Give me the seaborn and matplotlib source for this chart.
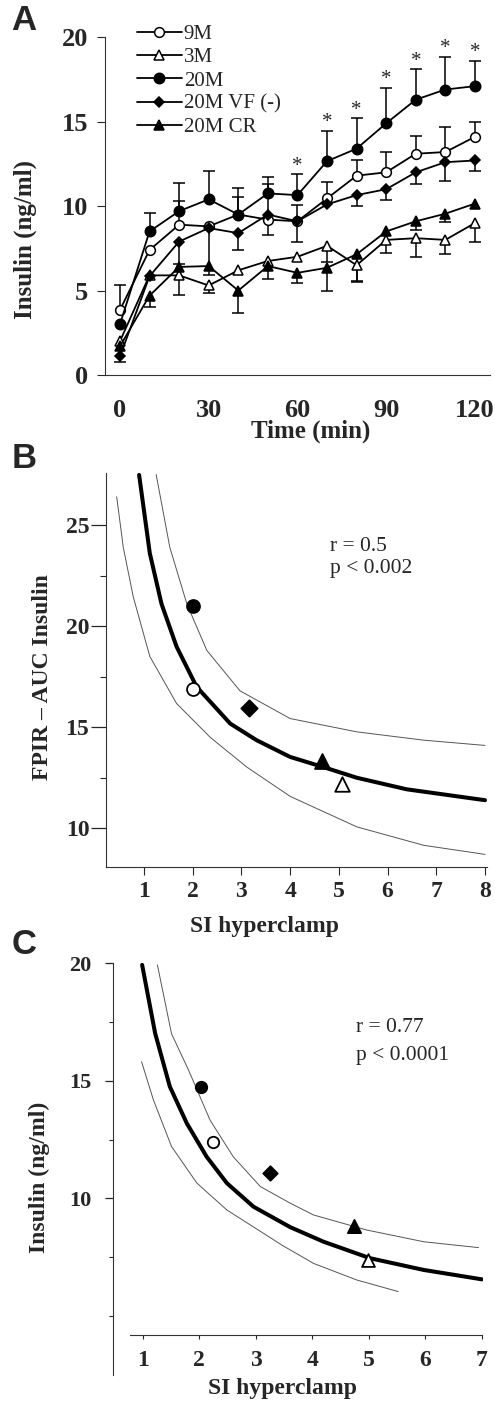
import numpy as np
import pandas as pd
import seaborn as sns
import matplotlib.pyplot as plt

# ---- Panel A: insulin time course ----
time = [0, 10, 20, 30, 40, 50, 60, 70, 80, 90, 100, 110, 120]
groups = ['9M', '3M', '20M', '20M VF (-)', '20M CR']

ins_9m = [3.85, 7.4, 8.9, 8.8, 9.5, 9.2, 9.1, 10.45, 11.8, 12.0, 13.1, 13.2, 14.1]
ins_3m = [2.0, 5.9, 5.9, 5.3, 6.2, 6.75, 7.0, 7.65, 6.5, 8.0, 8.1, 8.0, 9.0]
ins_20m = [3.0, 8.5, 9.7, 10.4, 9.5, 10.75, 10.65, 12.66, 13.4, 14.9, 16.3, 16.9, 17.1]
ins_vf = [1.1, 5.85, 7.9, 8.7, 8.4, 9.5, 9.1, 10.1, 10.65, 11.0, 12.0, 12.6, 12.7]
ins_cr = [1.7, 4.7, 6.4, 6.45, 5.0, 6.45, 6.05, 6.35, 7.15, 8.5, 9.1, 9.55, 10.15]

# error bars (upper / lower), 0 = not shown
err_up_9m = [1.45, 0, 1.4, 0, 1.05, 0, 0.95, 1.0, 0.9, 1.2, 1.05, 1.5, 0.9]
err_dn_9m = [0, 0, 0, 0, 0, 0.9, 0, 0, 0, 0, 0, 0, 0]
err_dn_3m = [0, 0, 1.15, 0.45, 0, 0, 0, 0.95, 1.0, 0.8, 1.1, 0.85, 1.15]
err_up_20m = [0, 1.1, 1.65, 1.7, 1.6, 1.0, 1.25, 1.8, 1.8, 2.1, 1.8, 1.95, 1.5]
err_up_vf = [0, 0, 0, 0, 0, 1.8, 0, 0, 0, 0, 0, 0, 0]
err_dn_vf = [0.3, 0, 1.3, 2.8, 1.0, 0, 1.25, 0, 0.65, 0.65, 0.7, 1.1, 0.6]
err_dn_cr = [0, 0.7, 0, 0, 1.35, 0.75, 0.6, 1.4, 1.6, 0, 0.5, 0.5, 0]

signif_times = [60, 70, 80, 90, 100, 110, 120]

# ---- Panel B: FPIR-AUC insulin vs SI hyperclamp ----
b_si = [2.01, 5.06, 2.0, 3.16, 4.65]
b_fpir = [16.9, 12.2, 21.0, 15.93, 13.35]
b_fit_x = [0.90, 1.12, 1.36, 1.67, 2.08, 2.77, 3.31, 4.0, 4.68, 5.37, 6.39, 8.0]
b_fit_y = [27.48, 23.6, 21.1, 18.98, 17.0, 15.18, 14.36, 13.53, 13.03, 12.5, 11.93, 11.39]
b_hi_x = [1.25, 1.53, 1.88, 2.29, 2.97, 4.0, 5.37, 6.74, 8.0]
b_hi_y = [27.5, 23.9, 21.1, 18.8, 16.8, 15.43, 14.77, 14.36, 14.1]
b_lo_x = [0.44, 0.575, 0.78, 1.12, 1.67, 2.36, 3.11, 4.0, 5.37, 6.74, 8.0]
b_lo_y = [26.4, 23.9, 21.45, 18.5, 16.17, 14.5, 13.03, 11.58, 10.07, 9.16, 8.71]

# ---- Panel C: insulin vs SI hyperclamp ----
c_si = [2.24, 4.99, 2.04, 3.25, 4.74]
c_ins = [12.38, 7.37, 14.75, 11.06, 8.8]
c_fit_x = [0.99, 1.22, 1.48, 1.78, 2.13, 2.49, 2.96, 3.61, 4.2, 5.02, 5.97, 7.0]
c_fit_y = [19.93, 17.02, 14.75, 13.19, 11.77, 10.64, 9.64, 8.77, 8.15, 7.45, 6.95, 6.55]
c_hi_x = [1.26, 1.51, 1.81, 2.19, 2.6, 3.08, 3.61, 4.02, 4.96, 5.97, 6.94]
c_hi_y = [19.93, 17.0, 15.46, 13.33, 11.77, 10.5, 9.79, 9.29, 8.65, 8.15, 7.9]
c_lo_x = [0.98, 1.19, 1.51, 1.96, 2.49, 3.46, 4.02, 4.79, 5.52]
c_lo_y = [15.81, 14.18, 12.2, 10.64, 9.5, 8.01, 7.23, 6.52, 6.03]

# marker styles per group: (marker, facecolor, size in A)
styles = {
    '9M': ('o', 'white', 7),
    '3M': ('^', 'white', 7),
    '20M': ('o', 'black', 7.5),
    '20M VF (-)': ('D', 'black', 5),
    '20M CR': ('^', 'black', 7),
}

sns.set_style('ticks')
plt.rcParams['font.family'] = ['Liberation Serif', 'DejaVu Serif']
plt.rcParams['axes.linewidth'] = 0.8
plt.rcParams['axes.edgecolor'] = '#333333'

fig = plt.figure(figsize=(4.95, 14.02), dpi=100)
axA = fig.add_axes([0.212, 0.7325, 0.778, 0.241])
axB = fig.add_axes([0.2141, 0.3818, 0.7697, 0.2806])
axC = fig.add_axes([0.2289, 0.01926, 0.7469, 0.2937])

# ---------- A ----------
series = [ins_9m, ins_3m, ins_20m, ins_vf, ins_cr]
ups = [err_up_9m, None, err_up_20m, err_up_vf, None]
dns = [err_dn_9m, err_dn_3m, None, err_dn_vf, err_dn_cr]
t = np.array(time)


def draw_err(ax, y, err, upward):
    y = np.array(y)
    err = np.array(err)
    keep = err > 0
    zeros = np.zeros(keep.sum())
    yerr = [zeros, err[keep]] if upward else [err[keep], zeros]
    _, caps, _ = ax.errorbar(t[keep], y[keep], yerr=yerr, fmt='none', ecolor='k',
                             elinewidth=1.1, capsize=4.5, capthick=1.1, zorder=1)
    caps[0 if upward else 1].remove()


for name, vals, up, dn in zip(groups, series, ups, dns):
    if up is not None:
        draw_err(axA, vals, up, True)
    if dn is not None:
        draw_err(axA, vals, dn, False)

for name, vals in zip(groups, series):
    m, fc, ms = styles[name]
    sns.lineplot(x=time, y=vals, ax=axA, color='k', lw=1.3, marker=m, markersize=ms,
                 markerfacecolor=fc, markeredgecolor='k', markeredgewidth=1.1,
                 label=name, zorder=3)

for ts in signif_times:
    i = time.index(ts)
    axA.text(ts, ins_20m[i] + err_up_20m[i] + 0.2, '*', ha='center', va='baseline',
             fontsize=15)

axA.set_xlim(-5.07, 125.1)
axA.set_ylim(0, 20)
axA.set_xticks([0, 30, 60, 90, 120])
axA.set_yticks([0, 5, 10, 15, 20])
axA.tick_params(axis='x', length=0, pad=17, labelsize=19)
axA.tick_params(axis='y', length=6, width=0.8, pad=6, labelsize=19)
for lab in axA.get_xticklabels() + axA.get_yticklabels():
    lab.set_fontweight('bold')
axA.set_xlabel('Time (min)', fontsize=18, fontweight='bold')
axA.set_ylabel('Insulin (ng/ml)', fontsize=18, fontweight='bold')
axA.xaxis.set_label_coords(0.535, -0.132)
axA.yaxis.set_label_coords(-0.177, 0.40)
axA.legend(loc='upper left', bbox_to_anchor=(0.083, 1.038), frameon=False, fontsize=15,
           handlelength=2.15, handletextpad=0.1, labelspacing=0.18, borderpad=0,
           borderaxespad=0)
sns.despine(ax=axA)

# ---------- B and C ----------
sizes = {'9M': 75, '3M': 95, '20M': 75, '20M VF (-)': 60, '20M CR': 100}


def scatter_panel(ax, xs, ys, scale):
    for name, x, y in zip(groups, xs, ys):
        m, fc, _ = styles[name]
        sns.scatterplot(x=[x], y=[y], ax=ax, marker=m, s=sizes[name] * scale,
                        color=fc, edgecolor='k', linewidth=1.3, zorder=4)


for ax, fx, fy, hx, hy, lx, ly in [
        (axB, b_fit_x, b_fit_y, b_hi_x, b_hi_y, b_lo_x, b_lo_y),
        (axC, c_fit_x, c_fit_y, c_hi_x, c_hi_y, c_lo_x, c_lo_y)]:
    sns.lineplot(x=fx, y=fy, ax=ax, color='k', lw=2.9, sort=False, estimator=None)
    sns.lineplot(x=hx, y=hy, ax=ax, color='#555555', lw=0.7, sort=False, estimator=None)
    sns.lineplot(x=lx, y=ly, ax=ax, color='#555555', lw=0.7, sort=False, estimator=None)

scatter_panel(axB, b_si, b_fpir, 1.15)
scatter_panel(axC, c_si, c_ins, 0.9)

# B axes
axB.set_xlim(0.22, 8.04)
axB.set_ylim(8.1, 27.56)
axB.set_xticks(range(1, 9))
axB.set_yticks([10, 15, 20, 25])
axB.set_yticks([12.5, 17.5, 22.5], minor=True)
axB.tick_params(axis='y', which='major', length=11, width=0.9, pad=1, labelsize=17)
axB.tick_params(axis='y', which='minor', left=True, length=4, width=0.8)
axB.tick_params(axis='x', length=6, width=0.8, pad=4, labelsize=17)
for lab in axB.get_xticklabels() + axB.get_yticklabels():
    lab.set_fontweight('bold')
axB.set_xlabel('SI hyperclamp', fontsize=17, fontweight='bold')
axB.set_ylabel('FPIR – AUC Insulin', fontsize=17, fontweight='bold')
axB.xaxis.set_label_coords(0.417, -0.125)
axB.yaxis.set_label_coords(-0.139, 0.482)
axB.text(0.588, 0.813, 'r = 0.5', transform=axB.transAxes, fontsize=15.5, va='center')
axB.text(0.588, 0.759, 'p < 0.002', transform=axB.transAxes, fontsize=15.5, va='center')
sns.despine(ax=axB)

# C axes
axC.set_xlim(0.48, 7.02)
axC.set_ylim(2.48, 20)
axC.spines['bottom'].set_position(('data', 4.2))
axC.spines['bottom'].set_bounds(0.78, 7.0)
axC.set_xticks(range(1, 8))
axC.set_yticks([10, 15, 20])
axC.set_yticks([5, 7.5, 12.5, 17.5], minor=True)
axC.tick_params(axis='y', which='major', length=6, width=0.9, pad=10, labelsize=16)
axC.tick_params(axis='y', which='minor', left=True, length=3, width=0.8)
axC.tick_params(axis='x', length=3, width=0.8, pad=8, labelsize=17)
for lab in axC.get_xticklabels() + axC.get_yticklabels():
    lab.set_fontweight('bold')
axC.set_xlabel('SI hyperclamp', fontsize=17, fontweight='bold')
axC.set_ylabel('Insulin (ng/ml)', fontsize=17, fontweight='bold')
axC.xaxis.set_label_coords(0.458, -0.007)
axC.yaxis.set_label_coords(-0.171, 0.481)
axC.text(0.656, 0.843, 'r = 0.77', transform=axC.transAxes, fontsize=15.5, va='center')
axC.text(0.656, 0.777, 'p < 0.0001', transform=axC.transAxes, fontsize=15.5, va='center')
sns.despine(ax=axC)

# panel letters
for letter, yp in [('A', 20), ('B', 458), ('C', 945)]:
    fig.text(24 / 495, 1 - yp / 1402, letter, ha='center', va='center', fontsize=25,
             fontweight='bold', family=['Liberation Sans', 'DejaVu Sans'])

fig.savefig('out.png', dpi=100)
